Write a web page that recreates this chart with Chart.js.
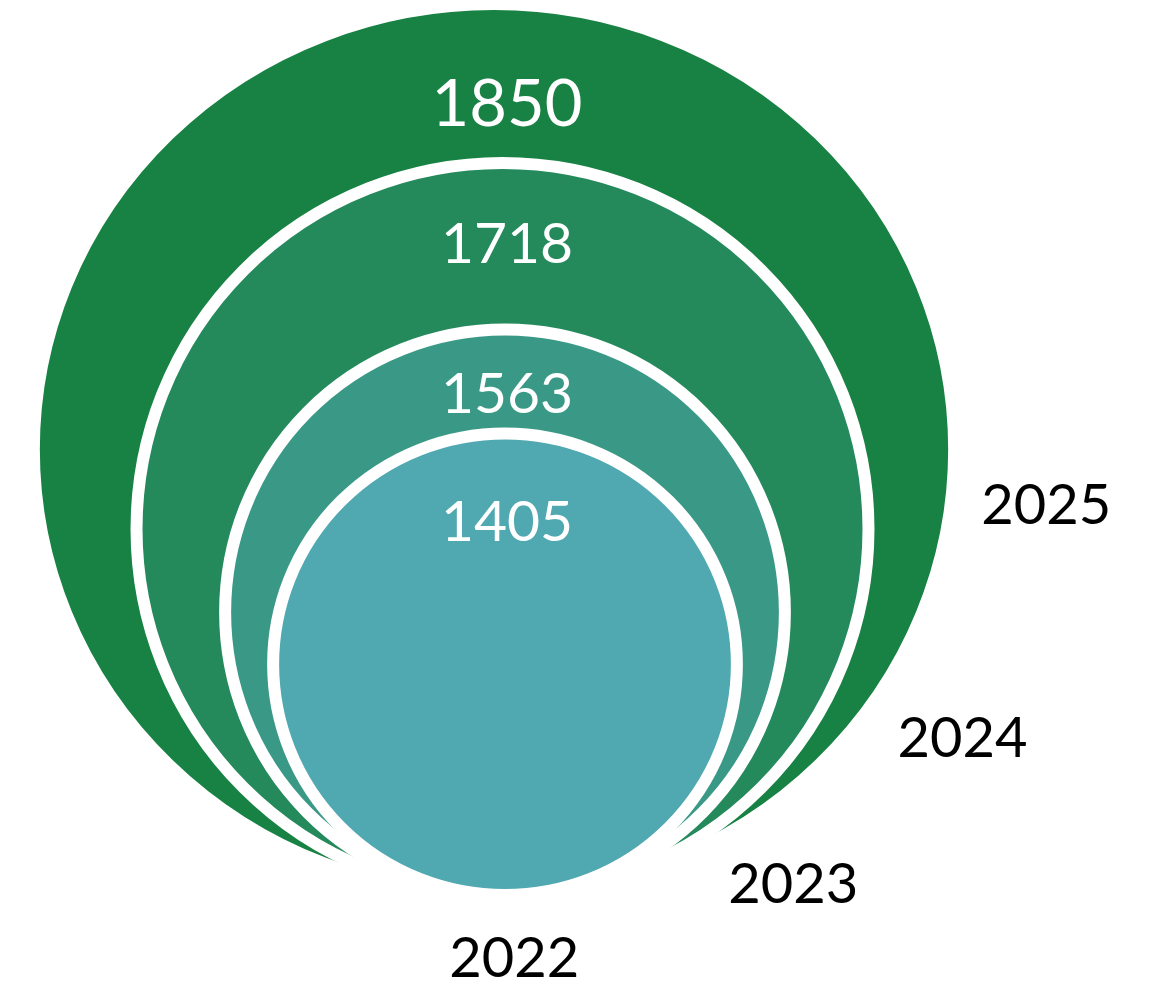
<!DOCTYPE html>
<html>
<head>
<meta charset="utf-8">
<script src="https://cdn.jsdelivr.net/npm/chart.js@4.4.1/dist/chart.umd.min.js"></script>
<style>
    html, body { margin: 0; padding: 0; background: #fff; }
    #wrap { width: 1150px; height: 985px; position: relative; }
</style>
</head>
<body>
<div id="wrap"><canvas id="rings"></canvas></div>
<script>
const years = ['2022', '2023', '2024', '2025'];
const values = [1405, 1563, 1718, 1850];
// bubble diameter, on the hidden y axis (0-100)
const bubbleSize = [51.56, 63.18, 81.79, 99.55];

const RING_COLORS = ['#50a8b1', '#3a9986', '#248a5c', '#178243'];
const FONT = 'Lato, "Open Sans", sans-serif';
// shape tweaks (layout only): width/height ratio and small horizontal nudge per ring
const RING_ASPECT = [1.005, 0.99, 1.0, 1.033];
const RING_DX = [5, 5, 2.5, -6];
// label placement (layout only): value text baseline below each ring top, year text in ring radii
const VALUE_DY = [107.5, 83.5, 100, 122];
const VALUE_PX = [57, 57, 57, 65];
const YEAR_AT = [[0.04, 1.355], [1.03, 1.03], [1.257, 0.623], [1.2, 0.167]];

function ringGeom(chart, i) {
    const { x, y } = chart.scales;
    const cx0 = x.getPixelForValue(0);
    const base = y.getPixelForValue(0);
    const top = y.getPixelForValue(bubbleSize[i]);
    const ry = (base - top) / 2;
    const rx = (x.getPixelForValue(bubbleSize[i] / 2) - cx0) * RING_ASPECT[i];
    return { cx: cx0 + RING_DX[i], cy: base - ry, rx, ry, top };
}

const ringPlugin = {
    id: 'nestedRings',
    beforeDatasetsDraw(chart) {
        const ctx = chart.ctx;
        ctx.save();
        // biggest first so the smaller years sit on top
        for (let i = years.length - 1; i >= 0; i--) {
            const g = ringGeom(chart, i);
            ctx.beginPath();
            ctx.ellipse(g.cx, g.cy, g.rx, g.ry, 0, 0, Math.PI * 2);
            ctx.fillStyle = RING_COLORS[i];
            ctx.fill();
            ctx.lineWidth = 12;
            ctx.strokeStyle = '#fff';
            ctx.stroke();
        }
        ctx.restore();
    },
    afterDatasetsDraw(chart) {
        const ctx = chart.ctx;
        const cx0 = chart.scales.x.getPixelForValue(0);
        ctx.save();
        ctx.textAlign = 'center';
        ctx.textBaseline = 'alphabetic';
        years.forEach((yr, i) => {
            const g = ringGeom(chart, i);
            ctx.fillStyle = '#fff';
            ctx.font = `${VALUE_PX[i]}px ${FONT}`;
            ctx.fillText(String(values[i]), cx0 + 7, g.top + VALUE_DY[i]);
            ctx.fillStyle = '#000';
            ctx.font = `56px ${FONT}`;
            ctx.fillText(yr, g.cx + g.rx * YEAR_AT[i][0], g.cy + g.ry * YEAR_AT[i][1]);
        });
        ctx.restore();
    },
};

new Chart(document.getElementById('rings'), {
    type: 'scatter',
    data: {
        labels: years,
        datasets: [{ data: years.map((yr, i) => ({ x: 0, y: bubbleSize[i] })), pointRadius: 0 }],
    },
    options: {
        responsive: true, maintainAspectRatio: false, animation: false, events: [],
        layout: { padding: { top: 0, bottom: 90, left: 0, right: 0 } },
        plugins: { legend: { display: false }, tooltip: { enabled: false } },
        scales: {
            x: { type: 'linear', display: false, min: -55.87, max: 72.63 },
            y: { type: 'linear', display: false, min: 0, max: 100 },
        },
    },
    plugins: [ringPlugin],
});
</script>
</body>
</html>
